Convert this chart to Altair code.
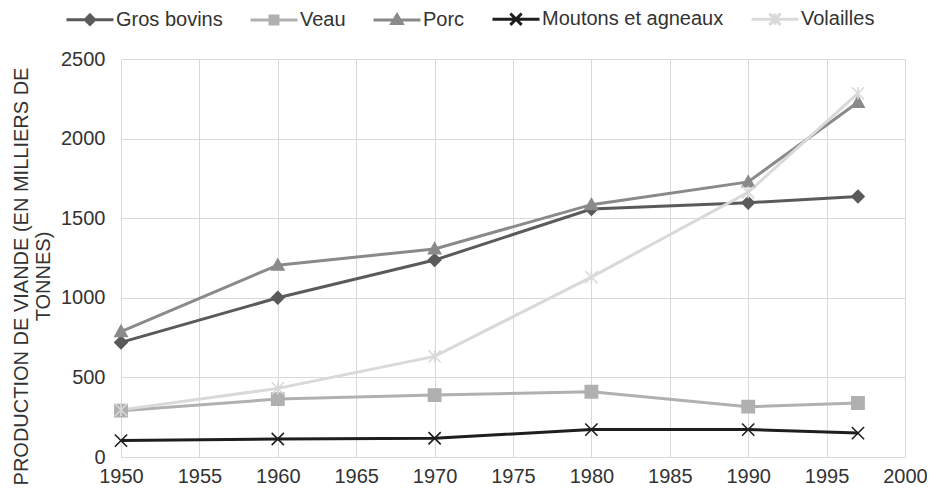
import altair as alt
import pandas as pd

years = [1950, 1960, 1970, 1980, 1990, 1997]
series_names = ["Gros bovins", "Veau", "Porc", "Moutons et agneaux", "Volailles"]
gros_bovins = [720, 1000, 1237, 1558, 1597, 1637]
veau = [291, 364, 389, 410, 316, 339]
porc = [788, 1205, 1307, 1585, 1728, 2228]
moutons = [103, 113, 118, 172, 172, 150]
volailles = [296, 431, 632, 1130, 1663, 2284]
x_ticks = [1950, 1955, 1960, 1965, 1970, 1975, 1980, 1985, 1990, 1995, 2000]
y_ticks = [0, 500, 1000, 1500, 2000, 2500]

colors = ["#5a5a5a", "#b0b0b0", "#8a8a8a", "#1e1e1e", "#d9d9d9"]
plot_shapes = [
    "M0,-1L1,0L0,1L-1,0Z",
    "M-1,-1H1V1H-1Z",
    "M0,-1L1,0.8L-1,0.8Z",
    "M-1,-1L1,1M-1,1L1,-1",
    "M-1,-1L1,1M-1,1L1,-1M0,-1L0,1",
]
legend_shapes = [
    "M-1,0H1M0,-0.2L0.2,0L0,0.2L-0.2,0Z",
    "M-1,0H1M-0.17,-0.17H0.17V0.17H-0.17Z",
    "M-1,0H1M0,-0.22L0.22,0.15L-0.22,0.15Z",
    "M-1,0H1M-0.24,-0.24L0.24,0.24M-0.24,0.24L0.24,-0.24",
    "M-1,0H1M-0.24,-0.24L0.24,0.24M-0.24,0.24L0.24,-0.24M0,-0.24L0,0.24",
]

values = [gros_bovins, veau, porc, moutons, volailles]
rows = []
for name, vals in zip(series_names, values):
    for yr, v in zip(years, vals):
        rows.append({"year": yr, "series": name, "value": v})
df = pd.DataFrame(rows)

FONT = "Liberation Sans"
TXT = "#333333"

x_enc = alt.X("year:Q", scale=alt.Scale(domain=[1950, 2000], nice=False),
              axis=alt.Axis(values=x_ticks, format="d", title=None, ticks=False, domain=False,
                            grid=True, gridColor="#d9d9d9", labelFontSize=20, labelFont=FONT,
                            labelColor=TXT, labelPadding=9, labelFlush=False))
y_enc = alt.Y("value:Q", scale=alt.Scale(domain=[0, 2500], nice=False),
              axis=alt.Axis(values=y_ticks, format="d", ticks=False, domain=False, grid=True,
                            gridColor="#d9d9d9", labelFlush=False,
                            labelFontSize=20, labelFont=FONT, labelColor=TXT, labelPadding=16,
                            title=["PRODUCTION DE VIANDE (EN MILLIERS DE", "TONNES)"],
                            titleFontSize=20, titleFont=FONT, titleFontWeight="normal",
                            titleColor=TXT, titleLineHeight=22, titlePadding=7, titleY=217))

def cscale():
    return alt.Scale(domain=series_names, range=colors)

base = alt.Chart(df)
lines = base.mark_line(strokeWidth=3).encode(
    x=x_enc, y=y_enc,
    color=alt.Color("series:N", scale=cscale(), legend=None),
)
points = base.mark_point(filled=True, strokeWidth=1.6, size=150, opacity=1).encode(
    x=x_enc, y=y_enc,
    color=alt.Color("series:N", scale=cscale(), legend=None),
    stroke=alt.Stroke("series:N", scale=cscale(), legend=None),
    shape=alt.Shape("series:N", scale=alt.Scale(domain=series_names, range=plot_shapes), legend=None),
)

leg = alt.Legend(
    title=None, orient="none", direction="horizontal", legendX=-56, legendY=-65,
    labelFontSize=20, labelFont=FONT, labelColor=TXT, labelOffset=1, labelLimit=400,
    columnPadding=21, symbolSize=2209, symbolStrokeWidth=3, symbolOpacity=1,
    columns=5,
)
legend_layer = base.transform_filter("datum.year > 3000").mark_point(filled=True).encode(
    x=x_enc, y=y_enc,
    color=alt.Color("series:N", scale=cscale(), legend=leg),
    stroke=alt.Stroke("series:N", scale=cscale(), legend=leg),
    shape=alt.Shape("series:N", scale=alt.Scale(domain=series_names, range=legend_shapes), legend=leg),
)

chart = alt.layer(lines, points, legend_layer).resolve_scale(
    color="independent", stroke="independent", shape="independent"
).properties(
    width=784, height=398,
    autosize=alt.AutoSizeParams(type="none"),
    padding={"left": 113, "top": 51, "right": 22, "bottom": 29},
).configure_view(stroke=None)

chart.save("out.html", embed_options={"renderer": "svg", "actions": False})
